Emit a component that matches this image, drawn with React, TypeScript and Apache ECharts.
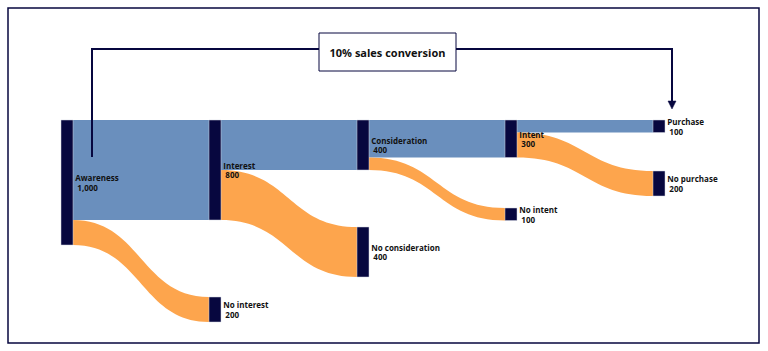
import React, { useEffect, useRef } from "react";
import * as echarts from "echarts";

const nodeNames = [
  "Awareness",
  "Interest",
  "No interest",
  "Consideration",
  "No consideration",
  "Intent",
  "No intent",
  "Purchase",
  "No purchase",
];
const linkSources = ["Awareness", "Awareness", "Interest", "Interest", "Consideration", "Consideration", "Intent", "Intent"];
const linkTargets = ["Interest", "No interest", "Consideration", "No consideration", "Intent", "No intent", "Purchase", "No purchase"];
const linkValues = [800, 200, 400, 400, 300, 100, 100, 200];
const annotationText = "10% sales conversion";

// layout: vertical offsets (px) of each node's top from the sankey top edge
const nodeTopOffsets: Record<string, number> = {
  Awareness: 0,
  Interest: 0,
  "No interest": 177,
  Consideration: 0,
  "No consideration": 107,
  Intent: 0,
  "No intent": 88,
  Purchase: 0,
  "No purchase": 51,
};

const NAVY = "#07073f";
const BLUE = "#6a8fbd";
const ORANGE = "#fda54d";

const SK_LEFT = 61;
const SK_TOP = 120;
const SK_W = 604;
const SK_H = 202;

export default function App() {
  const ref = useRef<HTMLDivElement>(null);
  useEffect(() => {
    if (!ref.current) return;
    const chart = echarts.init(ref.current, null, { renderer: "svg" });
    const data = nodeNames.map((n) => ({
      name: n,
      localY: nodeTopOffsets[n] / SK_H,
    }));
    const links = linkSources.map((s, i) => ({
      source: s,
      target: linkTargets[i],
      value: linkValues[i],
      lineStyle: { color: linkTargets[i].startsWith("No ") ? ORANGE : BLUE, opacity: 1 },
    }));
    chart.setOption({
      animation: false,
      backgroundColor: "#ffffff",
      series: [
        {
          type: "sankey",
          left: SK_LEFT,
          top: SK_TOP,
          width: SK_W,
          height: SK_H,
          nodeWidth: 12,
          nodeGap: 77,
          nodeAlign: "left",
          layoutIterations: 0,
          draggable: false,
          emphasis: { disabled: true },
          data,
          links,
          itemStyle: { color: NAVY, borderColor: "#d0d4e0", borderWidth: 0.5 },
          lineStyle: { curveness: 0.5, opacity: 1 },
          label: {
            position: "right",
            distance: 2,
            fontFamily: "Open Sans",
            fontSize: 8,
            fontWeight: "bold",
            lineHeight: 9.5,
            color: "#111111",
            formatter: (p: any) => `${p.name}\n ${Number(p.value).toLocaleString("en-US")}`,
          },
        },
      ],
      graphic: [
        {
          type: "rect",
          z: 100,
          shape: { x: 8, y: 8, width: 751, height: 335 },
          style: { fill: "none", stroke: NAVY, lineWidth: 1.5 },
        },
        {
          type: "polyline",
          z: 100,
          shape: { points: [[92, 157], [92, 49], [672, 49], [672, 102]] },
          style: { fill: "none", stroke: NAVY, lineWidth: 2 },
        },
        {
          type: "polygon",
          z: 100,
          shape: { points: [[668, 101], [676, 101], [672, 109]] },
          style: { fill: NAVY, stroke: NAVY, lineWidth: 0.5 },
        },
        {
          type: "rect",
          z: 101,
          shape: { x: 319, y: 33, width: 137, height: 38 },
          style: { fill: "#ffffff", stroke: NAVY, lineWidth: 1 },
        },
        {
          type: "text",
          z: 102,
          x: 387.5,
          y: 52,
          style: {
            text: annotationText,
            fill: "#111111",
            font: "bold 11px 'Open Sans'",
            align: "center",
            verticalAlign: "middle",
          },
        },
      ],
    });
    return () => chart.dispose();
  }, []);
  return (
    <div
      ref={ref}
      style={{ position: "fixed", left: 0, top: 0, width: 768, height: 351, background: "#fff" }}
    />
  );
}
